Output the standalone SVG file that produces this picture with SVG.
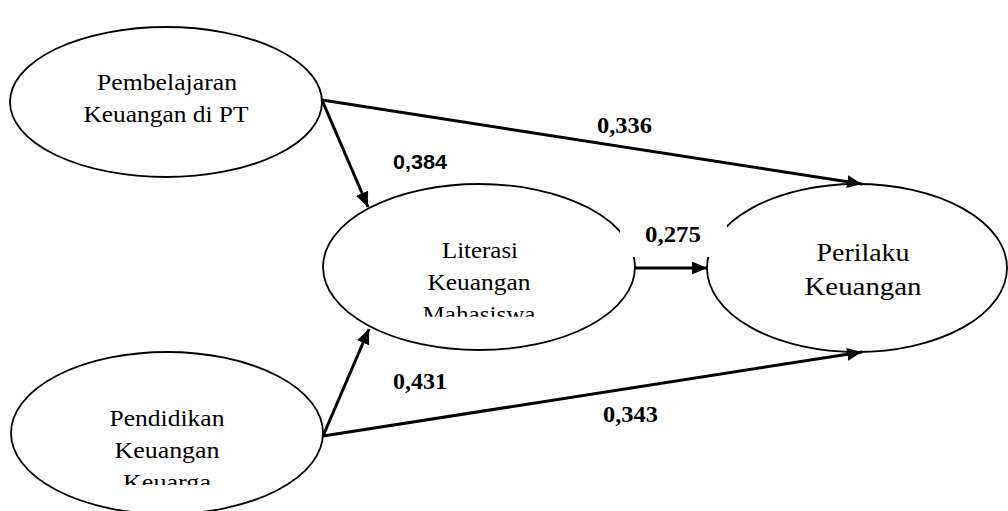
<svg xmlns="http://www.w3.org/2000/svg" width="1008" height="511" viewBox="0 0 1008 511">
<style>
.node{fill:#fff;stroke:#000;stroke-width:1.8}
.t{font-family:"Liberation Serif","Times New Roman",serif;font-size:23px;fill:#000;text-anchor:middle}
.t2{font-family:"Liberation Serif","Times New Roman",serif;font-size:26px;fill:#000;text-anchor:middle}
.c{stroke:#000;stroke-width:3;fill:none;marker-end:url(#ah)}
.ls{font-family:"Liberation Serif","Times New Roman",serif;font-weight:bold;font-size:23px;fill:#000}
.lsans{font-family:"Liberation Sans",Arial,sans-serif;font-weight:bold;font-size:20px;fill:#000}
</style>
<defs>
<marker id="ah" markerUnits="userSpaceOnUse" markerWidth="16" markerHeight="14" refX="15" refY="6.5" orient="auto">
<path d="M0,0 L15,6.5 L0,13 z" fill="#000"/>
</marker>
<clipPath id="clipLit"><rect x="300" y="150" width="360" height="166.7"/></clipPath>
<clipPath id="clipPend"><rect x="0" y="330" width="360" height="155"/></clipPath>
</defs>
<rect width="1008" height="511" fill="#fff"/>
<g id="n-pembelajaran">
<ellipse class="node" cx="166" cy="102" rx="156" ry="75"/>
<text class="t" x="167" y="90" textLength="140" lengthAdjust="spacingAndGlyphs">Pembelajaran</text>
<text class="t" x="166" y="122" textLength="165" lengthAdjust="spacingAndGlyphs">Keuangan di PT</text>
</g>
<g id="n-literasi">
<ellipse class="node" cx="479" cy="267" rx="156" ry="83"/>
<g clip-path="url(#clipLit)">
<text class="t" x="480" y="258" textLength="76" lengthAdjust="spacingAndGlyphs">Literasi</text>
<text class="t" x="479" y="290" textLength="103" lengthAdjust="spacingAndGlyphs">Keuangan</text>
<text class="t" x="479" y="322" textLength="113" lengthAdjust="spacingAndGlyphs">Mahasiswa</text>
</g>
</g>
<g id="n-perilaku">
<ellipse class="node" cx="857" cy="268" rx="150" ry="84"/>
<text class="t2" x="863" y="261" textLength="93" lengthAdjust="spacingAndGlyphs">Perilaku</text>
<text class="t2" x="863" y="295" textLength="117" lengthAdjust="spacingAndGlyphs">Keuangan</text>
</g>
<g id="n-pendidikan">
<ellipse class="node" cx="167" cy="433" rx="156" ry="81"/>
<g clip-path="url(#clipPend)">
<text class="t" x="167" y="426" textLength="115" lengthAdjust="spacingAndGlyphs">Pendidikan</text>
<text class="t" x="167" y="458" textLength="105" lengthAdjust="spacingAndGlyphs">Keuangan</text>
<text class="t" x="167" y="490" textLength="88" lengthAdjust="spacingAndGlyphs">Keuarga</text>
</g>
</g>
<g id="connectors">
<line class="c" x1="322" y1="100" x2="862" y2="184"/>
<line class="c" x1="322" y1="100" x2="368" y2="207"/>
<line class="c" x1="323" y1="436" x2="369" y2="329"/>
<line class="c" x1="323" y1="436" x2="862" y2="352"/>
<rect x="620" y="215" width="107" height="42" fill="#fff"/>
<line class="c" x1="635" y1="268" x2="707" y2="268"/>
</g>
<g id="labels">
<text class="ls" x="597" y="133" textLength="55" lengthAdjust="spacingAndGlyphs">0,336</text>
<text class="lsans" x="393" y="169" textLength="54" lengthAdjust="spacingAndGlyphs">0,384</text>
<text class="ls" x="645" y="242" textLength="56" lengthAdjust="spacingAndGlyphs">0,275</text>
<text class="ls" x="393" y="389" textLength="54" lengthAdjust="spacingAndGlyphs">0,431</text>
<text class="ls" x="603" y="422" textLength="55" lengthAdjust="spacingAndGlyphs">0,343</text>
</g>
</svg>
